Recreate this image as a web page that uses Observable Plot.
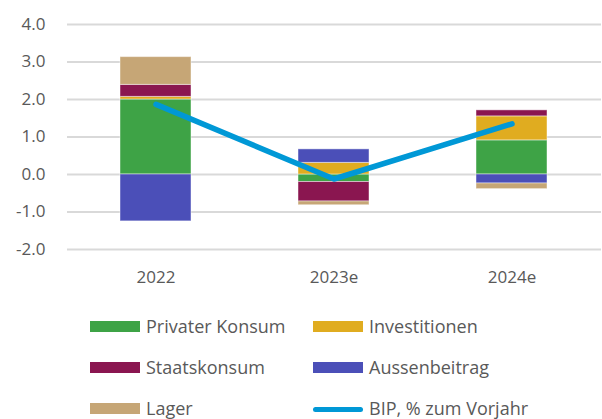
<!DOCTYPE html>
<html>
<head>
<meta charset="utf-8">
<script src="https://cdn.jsdelivr.net/npm/d3@7"></script>
<script src="https://cdn.jsdelivr.net/npm/@observablehq/plot@0.6"></script>
<style>
  body { margin: 0; background: #fff; }
  #wrap { position: relative; width: 602px; height: 419px; font-family: "Open Sans", sans-serif; color: #595959; }
  .lg { position: absolute; height: 20px; line-height: 20px; font-size: 18px; white-space: nowrap; }
  .sw { position: absolute; }
</style>
</head>
<body>
<div id="wrap"></div>
<script>
const categories = ["2022", "2023e", "2024e"];
const seriesNames = ["Privater Konsum", "Investitionen", "Staatskonsum", "Aussenbeitrag", "Lager"];
const privaterKonsum = [2.0, -0.2, 0.91];
const investitionen = [0.07, 0.31, 0.64];
const staatskonsum = [0.32, -0.52, 0.16];
const aussenbeitrag = [-1.25, 0.36, -0.24];
const lager = [0.74, -0.1, -0.15];
const bip = [1.87, -0.12, 1.35];
const yTicks = [-2, -1, 0, 1, 2, 3, 4];
const colors = ["#3ea346", "#e0ac20", "#8a1650", "#4b4fb8", "#c6a676"];
const lineColor = "#0098d6";

const seriesValues = [privaterKonsum, investitionen, staatskonsum, aussenbeitrag, lager];
const rows = [];
seriesNames.forEach((s, i) => categories.forEach((c, j) => rows.push({category: c, series: s, value: seriesValues[i][j]})));
const lineRows = categories.map((c, j) => ({category: c, value: bip[j]}));

const chart = Plot.plot({
  width: 602,
  height: 295,
  marginLeft: 67,
  marginRight: 1,
  marginTop: 24,
  marginBottom: 46,
  style: {fontFamily: "Open Sans, sans-serif", fontSize: "17px", color: "#595959", background: "transparent"},
  x: {domain: categories, paddingInner: 0.6, paddingOuter: 0.3, label: null, tickSize: 0, tickPadding: 21},
  y: {domain: [-2, 4], ticks: yTicks, tickFormat: d => d.toFixed(1), label: null, tickSize: 0, tickPadding: 22},
  color: {domain: seriesNames, range: colors},
  marks: [
    Plot.ruleY(yTicks, {stroke: "#d9d9d9", strokeWidth: 2}),
    Plot.barY(rows, Plot.stackY({x: "category", y: "value", fill: "series", stroke: "#ffffff", strokeOpacity: 0.45, strokeWidth: 1})),
    Plot.lineY(lineRows, {x: "category", y: "value", stroke: lineColor, strokeWidth: 5.5, strokeLinecap: "round", strokeLinejoin: "round"})
  ]
});
const wrap = document.getElementById("wrap");
wrap.appendChild(chart);

const legendItems = [
  {label: seriesNames[0], color: colors[0], x: 90, y: 327, type: "rect"},
  {label: seriesNames[1], color: colors[1], x: 313, y: 327, type: "rect"},
  {label: seriesNames[2], color: colors[2], x: 90, y: 368, type: "rect"},
  {label: seriesNames[3], color: colors[3], x: 313, y: 368, type: "rect"},
  {label: seriesNames[4], color: colors[4], x: 90, y: 409, type: "rect"},
  {label: "BIP, % zum Vorjahr", color: lineColor, x: 313, y: 409, type: "line"}
];
legendItems.forEach(it => {
  const sw = document.createElement("div");
  sw.className = "sw";
  if (it.type === "rect") {
    sw.style.cssText = `left:${it.x}px;top:${it.y - 6}px;width:50px;height:11px;background:${it.color}`;
  } else {
    sw.style.cssText = `left:${it.x}px;top:${it.y - 2.5}px;width:50px;height:5px;border-radius:3px;background:${it.color}`;
  }
  wrap.appendChild(sw);
  const t = document.createElement("div");
  t.className = "lg";
  t.style.left = (it.x + 56) + "px";
  t.style.top = (it.y - 11) + "px";
  t.textContent = it.label;
  wrap.appendChild(t);
});
</script>
</body>
</html>
